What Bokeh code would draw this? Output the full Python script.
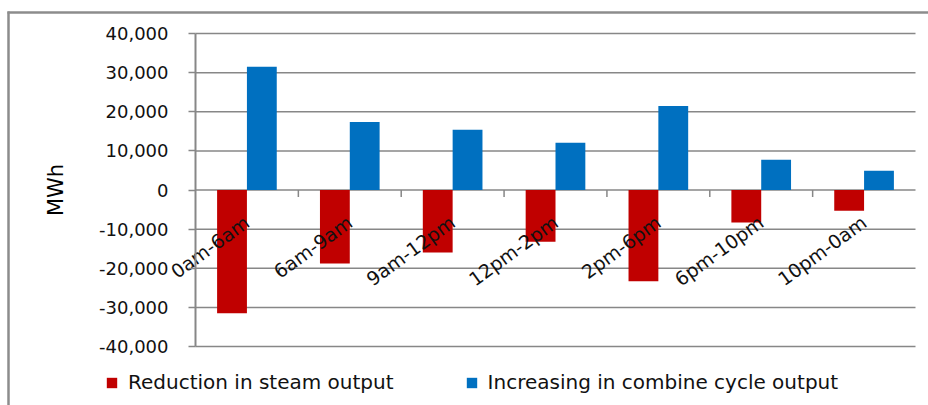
import math
import numpy as np
from bokeh.plotting import figure
from bokeh.models import (ColumnDataSource, Range1d, FixedTicker, NumeralTickFormatter,
                          Legend, LegendItem)
from bokeh.core.properties import value
from bokeh.embed import file_html
from bokeh.resources import INLINE

# Time-of-day blocks and the change in generation for each (MWh)
periods = ["0am-6am", "6am-9am", "9am-12pm", "12pm-2pm", "2pm-6pm", "6pm-10pm", "10pm-0am"]
steam_reduction = [-31500, -18800, -16000, -13200, -23300, -8300, -5300]
combined_cycle_increase = [31500, 17400, 15400, 12100, 21500, 7700, 4900]
y_ticks = [-40000, -30000, -20000, -10000, 0, 10000, 20000, 30000, 40000]

RED = "#C00000"
BLUE = "#0070C0"
GRID = "#878787"
BORDER = "#8c8c8c"
FONT = "DejaVu Sans"

n = len(periods)
idx = np.arange(n)
bar_w = 0.29
y_lo, y_hi = y_ticks[0], y_ticks[-1]

# Canvas geometry: the whole canvas is the frame; the value area sits inside it
W, H = 928, 405
area_left, area_right, area_top, area_bottom = 195, 915, 33, 346
px_per_x = (area_right - area_left) / n
y_per_px = (y_hi - y_lo) / (area_bottom - area_top)
x_start = -area_left / px_per_x
x_end = n + (W - area_right) / px_per_x
y_end = y_hi + area_top * y_per_px
y_start = y_lo - (H - area_bottom) * y_per_px


def sx(px):
    return x_start + px / px_per_x


def sy(py):
    return y_end - py * y_per_px


src = ColumnDataSource(dict(
    period=periods,
    xc=idx + 0.5,
    x_steam=idx + 0.5 - bar_w / 2,
    x_cc=idx + 0.5 + bar_w / 2,
    steam=steam_reduction,
    cc=combined_cycle_increase,
))

p = figure(width=W, height=H, output_backend="svg", toolbar_location=None,
           x_range=Range1d(x_start, x_end), y_range=Range1d(y_start, y_end),
           min_border=0, min_border_left=0, min_border_right=0,
           min_border_top=0, min_border_bottom=0)
p.outline_line_color = None
p.background_fill_color = "white"
p.border_fill_color = "white"
p.xgrid.visible = False
p.ygrid.visible = False
p.xaxis.visible = False

# horizontal gridlines across the value area
p.segment(x0=0, x1=n, y0=y_ticks, y1=y_ticks, line_color=GRID, line_width=1.5)

r_steam = p.vbar(x="x_steam", top="steam", bottom=0, width=bar_w, source=src,
                 fill_color=RED, line_color=None)
r_cc = p.vbar(x="x_cc", top="cc", bottom=0, width=bar_w, source=src,
              fill_color=BLUE, line_color=None)

# value axis pinned to the left edge of the value area
ya = p.yaxis[0]
ya.fixed_location = 0
ya.bounds = (y_lo, y_hi)
ya.ticker = FixedTicker(ticks=y_ticks)
ya.formatter = NumeralTickFormatter(format="0,0")
ya.axis_line_color = GRID
ya.axis_line_width = 2
ya.major_tick_line_color = GRID
ya.major_tick_line_width = 1.5
ya.major_tick_out = 7
ya.major_tick_in = 0
ya.minor_tick_line_color = None
ya.major_label_standoff = 20
ya.major_label_text_font = FONT
ya.major_label_text_font_size = "18px"
ya.major_label_text_color = "#111111"
ya.axis_label = "MWh"
ya.axis_label_text_font = FONT
ya.axis_label_text_font_size = "21px"
ya.axis_label_text_font_style = "normal"
ya.axis_label_text_color = "#000000"
ya.axis_label_standoff = 28

# category boundary ticks hanging below the zero line
bx = idx[1:].astype(float)
p.segment(x0=bx, x1=bx, y0=0, y1=-7 * y_per_px, line_color=GRID, line_width=1.5)

# rotated category labels under the zero line
p.text(x="xc", y=0, text="period", source=src, angle=math.radians(36),
       text_align="right", text_baseline="middle", x_offset=0, y_offset=30,
       text_font=value(FONT), text_font_size="19px", text_color="#111111")

# legend along the bottom
legend = Legend(items=[
    LegendItem(label="Reduction in steam output", renderers=[r_steam]),
    LegendItem(label="Increasing in combine cycle output", renderers=[r_cc]),
], orientation="horizontal", location=(105, 11))
legend.glyph_width = 13
legend.glyph_height = 13
legend.label_standoff = 10
legend.spacing = 71
legend.padding = 5
legend.margin = 0
legend.border_line_color = None
legend.background_fill_alpha = 0
legend.label_text_font = FONT
legend.label_text_font_size = "20px"
legend.label_text_color = "#111111"
p.add_layout(legend, "center")

# outer chart border (left and top edges)
p.segment(x0=[sx(8), sx(7)], x1=[sx(8), sx(W + 5)],
          y0=[sy(11), sy(12)], y1=[sy(H + 5), sy(12)],
          line_color=BORDER, line_width=2.5)

open("out.html", "w").write(file_html(p, INLINE))
